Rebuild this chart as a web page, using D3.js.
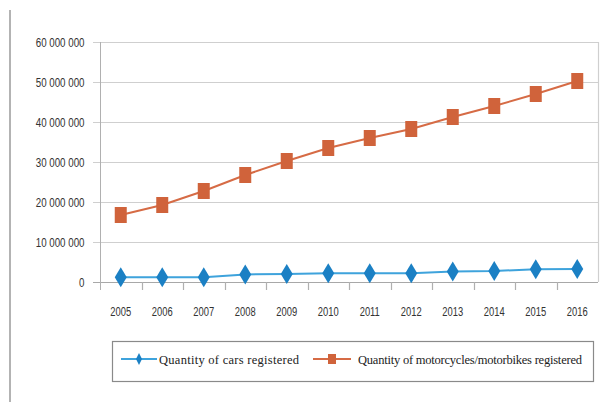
<!DOCTYPE html>
<html>
<head>
<meta charset="utf-8">
<script src="https://cdn.jsdelivr.net/npm/d3@7"></script>
<style>
  body { margin: 0; background: #fff; }
  svg { display: block; }
  .tick text { font-family: "Liberation Sans", Arial, sans-serif; fill: #333; }
  .legend text { font-family: "Liberation Serif", "Times New Roman", serif; font-size: 12.5px; fill: #222; }
</style>
</head>
<body>
<svg width="603" height="406"></svg>
<script>
const width = 603, height = 406;
const svg = d3.select("svg");

// data
const years = ["2005", "2006", "2007", "2008", "2009", "2010", "2011", "2012", "2013", "2014", "2015", "2016"];
const cars = [1200000, 1200000, 1200000, 1900000, 2000000, 2200000, 2200000, 2200000, 2600000, 2750000, 3200000, 3250000];
const motorbikes = [16750000, 19250000, 22750000, 26750000, 30250000, 33500000, 36000000, 38250000, 41250000, 44000000, 47000000, 50250000];
const yTicks = [0, 10000000, 20000000, 30000000, 40000000, 50000000, 60000000];
const seriesNames = ["Quantity of cars registered", "Quantity of motorcycles/motorbikes registered"];

const plotLeft = 100, plotRight = 598, plotTop = 42, plotBottom = 282;
const carBlue = "#1b80c4", carLine = "#3ea3dc";
const bikeOrange = "#d0633b", bikeLine = "#d66b45";

const xScale = d3.scaleBand().domain(years).range([plotLeft, plotRight]);
const yScale = d3.scaleLinear().domain([0, 60000000]).range([plotBottom, plotTop]);
const fmt = d3.formatLocale({ decimal: ".", thousands: " ", grouping: [3], currency: ["", ""] }).format(",");

// squeeze tick text to look like the narrow font of the original
function narrow(sel, k) {
    sel.each(function () {
        const w = this.getComputedTextLength();
        d3.select(this).attr("textLength", w * k).attr("lengthAdjust", "spacingAndGlyphs");
    });
}

// page border line on the left
svg.append("line").attr("x1", 10).attr("x2", 10).attr("y1", 10).attr("y2", 402)
    .attr("stroke", "#9a9a9a").attr("stroke-width", 1.5);

// grid lines
svg.append("g").selectAll("line").data(yTicks).enter().append("line")
    .attr("x1", plotLeft - 7).attr("x2", plotRight)
    .attr("y1", d => Math.round(yScale(d)) + 0.5).attr("y2", d => Math.round(yScale(d)) + 0.5)
    .attr("stroke", d => d === 0 ? "#a8a8a8" : "#cfcfcf").attr("stroke-width", 1.2);

// right border of the plot
svg.append("line").attr("x1", plotRight + 0.5).attr("x2", plotRight + 0.5).attr("y1", plotTop).attr("y2", plotBottom)
    .attr("stroke", "#cfcfcf").attr("stroke-width", 1.2);

// y axis
const yAxis = svg.append("g").attr("transform", `translate(${plotLeft + 0.5},0)`)
    .call(d3.axisLeft(yScale).tickValues(yTicks).tickFormat(fmt).tickSize(0).tickPadding(16));
yAxis.select(".domain").attr("stroke", "#b0b0b0").attr("d", `M0,${plotTop}V${plotBottom + 8}`);
yAxis.selectAll("text").style("font-size", "12.5px").call(narrow, 0.78);

// x axis: ticks between categories
const xAxis = svg.append("g").attr("transform", `translate(0,${plotBottom + 0.5})`)
    .call(d3.axisBottom(xScale).tickSize(0).tickPadding(25));
xAxis.select(".domain").remove();
xAxis.selectAll("text").style("font-size", "12.5px").call(narrow, 0.75);
svg.append("g").selectAll("line").data(years.slice(1)).enter().append("line")
    .attr("x1", d => Math.round(xScale(d)) + 0.5).attr("x2", d => Math.round(xScale(d)) + 0.5)
    .attr("y1", plotBottom).attr("y2", plotBottom + 8)
    .attr("stroke", "#b0b0b0").attr("stroke-width", 1.2);

const cx = d => xScale(d) + xScale.bandwidth() / 2;
const diamond = "M0,-10L6,0L0,10L-6,0Z";

// motorcycles
svg.append("path").datum(motorbikes)
    .attr("fill", "none").attr("stroke", bikeLine).attr("stroke-width", 2)
    .attr("d", d3.line().x((d, i) => cx(years[i])).y(d => yScale(d)));
svg.append("g").selectAll("rect").data(motorbikes).enter().append("rect")
    .attr("x", (d, i) => cx(years[i]) - 6).attr("y", d => yScale(d) - 8)
    .attr("width", 12).attr("height", 16).attr("fill", bikeOrange);

// cars
svg.append("path").datum(cars)
    .attr("fill", "none").attr("stroke", carLine).attr("stroke-width", 2)
    .attr("d", d3.line().x((d, i) => cx(years[i])).y(d => yScale(d)));
svg.append("g").selectAll("path").data(cars).enter().append("path")
    .attr("transform", (d, i) => `translate(${cx(years[i])},${yScale(d)})`)
    .attr("d", diamond).attr("fill", carBlue);

// legend
const legend = svg.append("g").attr("class", "legend");
legend.append("rect").attr("x", 112.5).attr("y", 341.5).attr("width", 481).attr("height", 40)
    .attr("fill", "#fff").attr("stroke", "#8a8a8a").attr("stroke-width", 1.2);

const items = [
    { name: seriesNames[0], x1: 121, x2: 157, tx: 159, tw: 140, line: carLine, fill: carBlue, shape: "diamond" },
    { name: seriesNames[1], x1: 313, x2: 351, tx: 358, tw: 224, line: bikeLine, fill: bikeOrange, shape: "square" }
];
const item = legend.selectAll(".item").data(items).enter().append("g").attr("class", "item");
item.append("line").attr("x1", d => d.x1).attr("x2", d => d.x2).attr("y1", 359).attr("y2", 359)
    .attr("stroke", d => d.line).attr("stroke-width", 2);
item.filter(d => d.shape === "diamond").append("path")
    .attr("transform", d => `translate(${(d.x1 + d.x2) / 2},359) scale(0.5,0.6)`)
    .attr("d", diamond).attr("fill", d => d.fill);
item.filter(d => d.shape === "square").append("rect")
    .attr("x", d => (d.x1 + d.x2) / 2 - 4).attr("y", 354).attr("width", 8).attr("height", 10)
    .attr("fill", d => d.fill);
item.append("text").attr("x", d => d.tx).attr("y", 363.5)
    .attr("textLength", d => d.tw).attr("lengthAdjust", "spacing")
    .text(d => d.name);
</script>
</body>
</html>
